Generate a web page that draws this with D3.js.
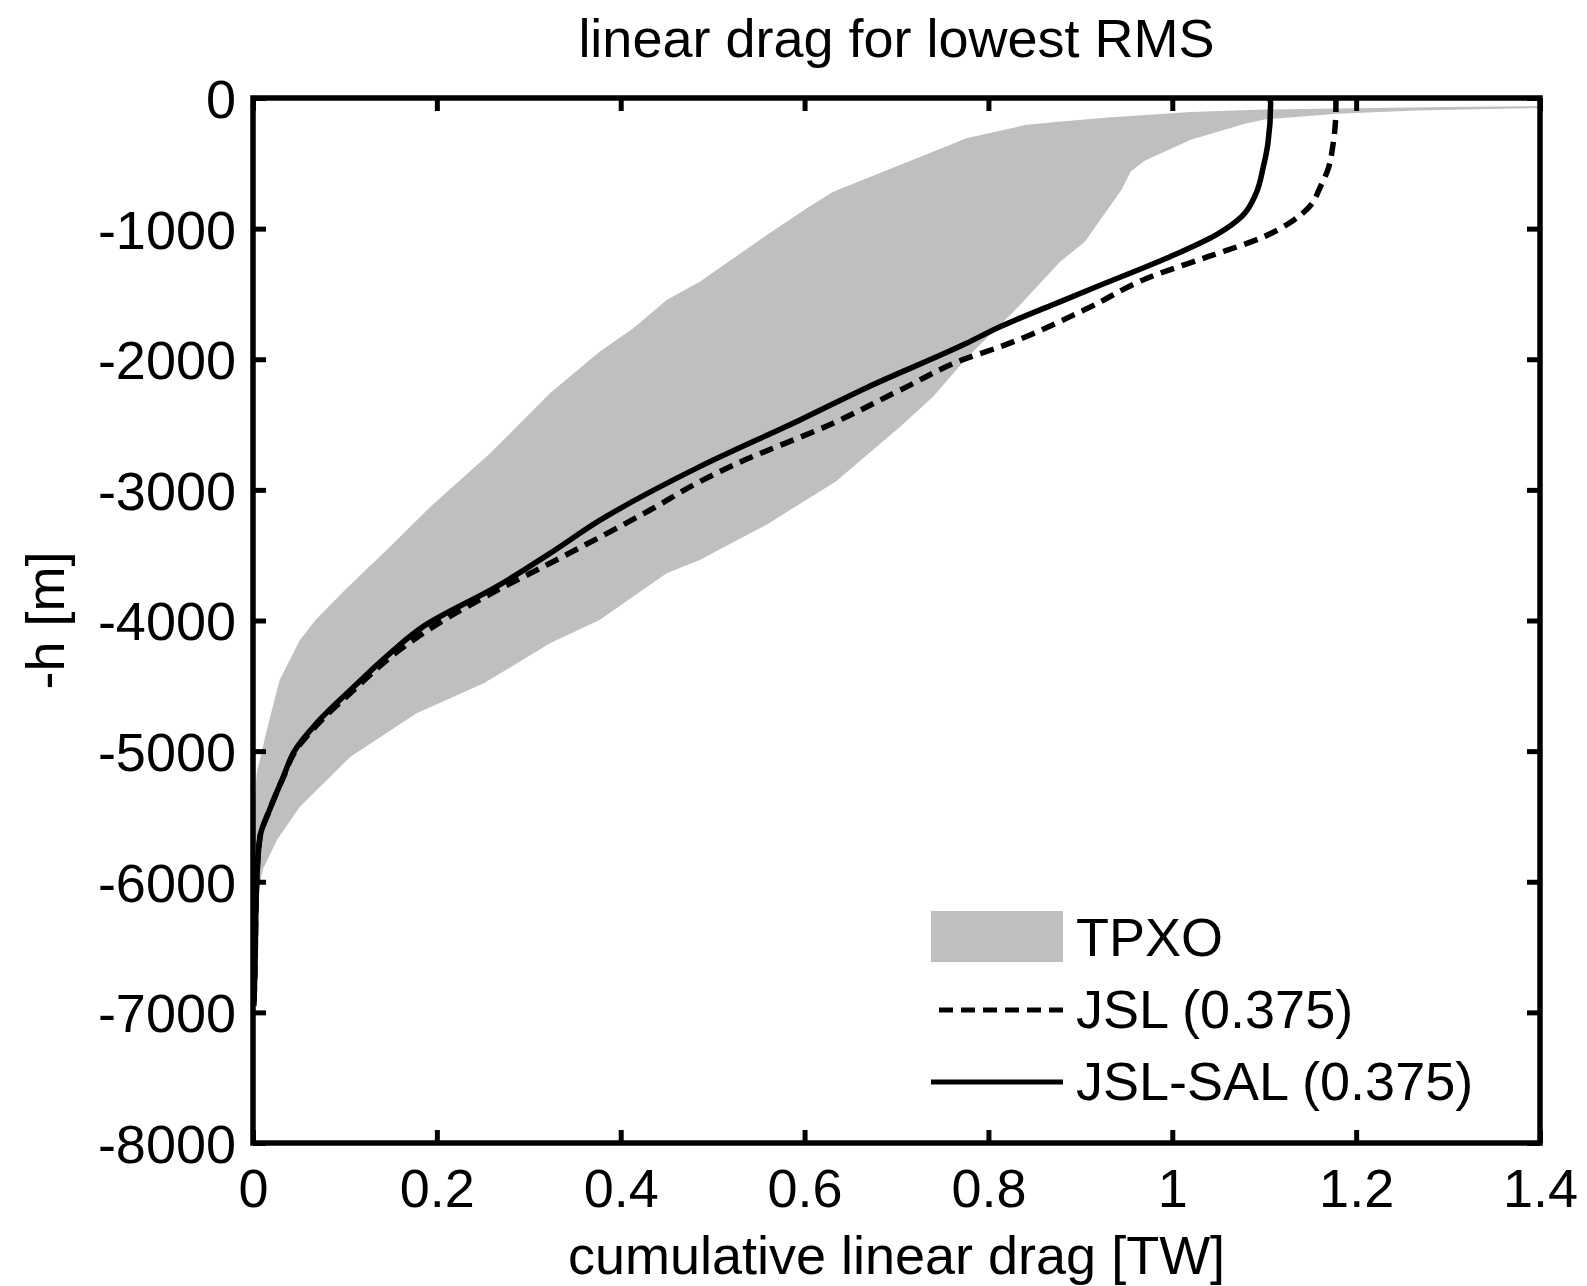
<!DOCTYPE html>
<html>
<head>
<meta charset="utf-8">
<script src="https://cdn.jsdelivr.net/npm/d3@7"></script>
<style>
  body { margin: 0; background: #fff; }
  text { font-family: "Liberation Sans", Arial, Helvetica, sans-serif; fill: #000; }
</style>
</head>
<body>
<script>
/* Tick values */
var xTicks = [0, 0.2, 0.4, 0.6, 0.8, 1, 1.2, 1.4];
var yTicks = [0, -1000, -2000, -3000, -4000, -5000, -6000, -7000, -8000];

/* TPXO envelope: left/upper boundary, then right/lower boundary, [drag, depth] */
var tpxoMin = [
  [1.45, -60], [1.30, -68], [1.18, -80], [1.10, -88], [1.02, -108], [0.93, -150],
  [0.87, -185], [0.84, -207], [0.776, -309], [0.722, -462], [0.631, -717],
  [0.602, -845], [0.559, -1049], [0.486, -1406], [0.450, -1546], [0.414, -1761],
  [0.377, -1942], [0.323, -2261], [0.258, -2720], [0.193, -3129], [0.149, -3435],
  [0.100, -3767], [0.068, -3996], [0.051, -4150], [0.029, -4456], [0.015, -4838],
  [0.004, -5170], [0.001, -5500], [0, -5800]
];
var tpxoMax = [
  [1.45, -70], [1.266, -95], [1.18, -120], [1.10, -165], [1.08, -196], [1.02, -320],
  [0.97, -480], [0.955, -560], [0.945, -700], [0.925, -900], [0.905, -1100],
  [0.878, -1253], [0.831, -1610], [0.776, -1993], [0.740, -2286], [0.704, -2516],
  [0.634, -2935], [0.559, -3265], [0.486, -3537], [0.450, -3639], [0.377, -3996],
  [0.323, -4175], [0.251, -4481], [0.178, -4711], [0.106, -5043], [0.051, -5426],
  [0.026, -5681], [0.011, -5900], [0.005, -6100], [0, -6300]
];

/* JSL (0.375), dashed */
var jsl = [
  [1.178, 0], [1.178, -69], [1.175, -349], [1.169, -554], [1.161, -681],
  [1.149, -834], [1.132, -936], [1.099, -1064], [1.038, -1217], [0.976, -1370],
  [0.905, -1620], [0.812, -1906], [0.776, -1993], [0.704, -2236],
  [0.631, -2490], [0.523, -2809], [0.486, -2937], [0.432, -3154],
  [0.323, -3562], [0.260, -3790], [0.200, -4030], [0.155, -4250], [0.110, -4530],
  [0.071, -4790], [0.046, -5000], [0.033, -5200], [0.018, -5450], [0.0076, -5660],
  [0.004, -6012], [0.002, -6700], [0.001, -6950]
];

/* JSL-SAL (0.375), solid */
var jslSal = [
  [1.106, 0], [1.107, -43], [1.104, -349], [1.099, -528], [1.091, -732],
  [1.075, -911], [1.050, -1038], [0.997, -1217], [0.935, -1395], [0.873, -1574],
  [0.812, -1753], [0.776, -1878], [0.668, -2216], [0.595, -2465], [0.486, -2822],
  [0.378, -3230], [0.323, -3486], [0.265, -3741], [0.185, -4047],
  [0.149, -4251], [0.106, -4532], [0.069, -4787], [0.045, -5000], [0.033, -5196],
  [0.018, -5450], [0.0076, -5655], [0.004, -6012], [0.002, -6700], [0.001, -6950]
];

var legendLabels = ["TPXO", "JSL (0.375)", "JSL-SAL (0.375)"];

var W = 1587, H = 1286;
var m = { left: 253, top: 98, right: 47, bottom: 143 };
var pw = W - m.left - m.right, ph = H - m.top - m.bottom;
var gray = "#bfbfbf";

var svg = d3.select("body").append("svg")
    .attr("width", W)
    .attr("height", H);

var x = d3.scaleLinear().domain([0, 1.4]).range([0, pw]);
var y = d3.scaleLinear().domain([0, -8000]).range([0, ph]);

svg.append("clipPath").attr("id", "plotclip")
  .append("rect").attr("width", pw).attr("height", ph);

var g = svg.append("g").attr("transform", "translate(" + m.left + "," + m.top + ")");
var plot = g.append("g").attr("clip-path", "url(#plotclip)");

var poly = d3.line()
    .x(function(d) { return x(d[0]); })
    .y(function(d) { return y(d[1]); });

var curve = d3.line()
    .curve(d3.curveMonotoneY)
    .x(function(d) { return x(d[0]); })
    .y(function(d) { return y(d[1]); });

/* Shaded TPXO range */
plot.append("path")
    .datum(tpxoMin.concat(tpxoMax.slice().reverse()))
    .attr("d", function(d) { return poly(d) + "Z"; })
    .attr("fill", gray)
    .attr("stroke", "none");

plot.append("path")
    .datum(jsl)
    .attr("d", curve)
    .attr("fill", "none")
    .attr("stroke", "#000")
    .attr("stroke-width", 5.5)
    .attr("stroke-dasharray", "14,8");

plot.append("path")
    .datum(jslSal)
    .attr("d", curve)
    .attr("fill", "none")
    .attr("stroke", "#000")
    .attr("stroke-width", 5.5);

/* Axes: ticks pointing inward on all four sides */
function styleAxis(sel) {
  sel.select(".domain").remove();
  sel.selectAll(".tick line").attr("stroke", "#000").attr("stroke-width", 5);
  sel.selectAll("text").style("font-size", "54px").attr("fill", "#000");
}

g.append("g").attr("transform", "translate(0," + ph + ")")
    .call(d3.axisBottom(x).tickValues(xTicks).tickSize(-13).tickPadding(26)
      .tickFormat(function(d) { return String(d); }))
    .call(styleAxis)
    .selectAll("text").attr("dy", "0.71em");

g.append("g")
    .call(d3.axisTop(x).tickValues(xTicks).tickSize(-13).tickFormat(""))
    .call(styleAxis);

g.append("g")
    .call(d3.axisLeft(y).tickValues(yTicks).tickSize(-13).tickPadding(17)
      .tickFormat(function(d) { return String(d); }))
    .call(styleAxis)
    .selectAll("text").attr("dy", "0.36em");

g.append("g").attr("transform", "translate(" + pw + ",0)")
    .call(d3.axisRight(y).tickValues(yTicks).tickSize(-13).tickFormat(""))
    .call(styleAxis);

g.append("rect")
    .attr("width", pw).attr("height", ph)
    .attr("fill", "none").attr("stroke", "#000").attr("stroke-width", 5.5);

/* Titles */
svg.append("text")
    .attr("x", m.left + pw / 2).attr("y", 57)
    .attr("text-anchor", "middle")
    .style("font-size", "54px")
    .text("linear drag for lowest RMS");

svg.append("text")
    .attr("x", m.left + pw / 2).attr("y", 1274)
    .attr("text-anchor", "middle")
    .style("font-size", "54px")
    .text("cumulative linear drag [TW]");

svg.append("text")
    .attr("transform", "translate(64," + (m.top + ph / 2) + ") rotate(-90)")
    .attr("text-anchor", "middle")
    .style("font-size", "54px")
    .text("-h [m]");

/* Legend */
var lg = svg.append("g").attr("transform", "translate(931,911)");
lg.append("rect")
    .attr("width", 132).attr("height", 51)
    .attr("fill", gray);
lg.append("line")
    .attr("x1", 8).attr("x2", 132).attr("y1", 99).attr("y2", 99)
    .attr("stroke", "#000").attr("stroke-width", 5)
    .attr("stroke-dasharray", "14,8");
lg.append("line")
    .attr("x1", 0).attr("x2", 132).attr("y1", 171).attr("y2", 171)
    .attr("stroke", "#000").attr("stroke-width", 5);
lg.selectAll(".lgtext")
    .data(legendLabels)
  .enter().append("text")
    .attr("class", "lgtext")
    .attr("x", 145)
    .attr("y", function(d, i) { return 45 + i * 72; })
    .style("font-size", "54px")
    .text(function(d) { return d; });
</script>
</body>
</html>
